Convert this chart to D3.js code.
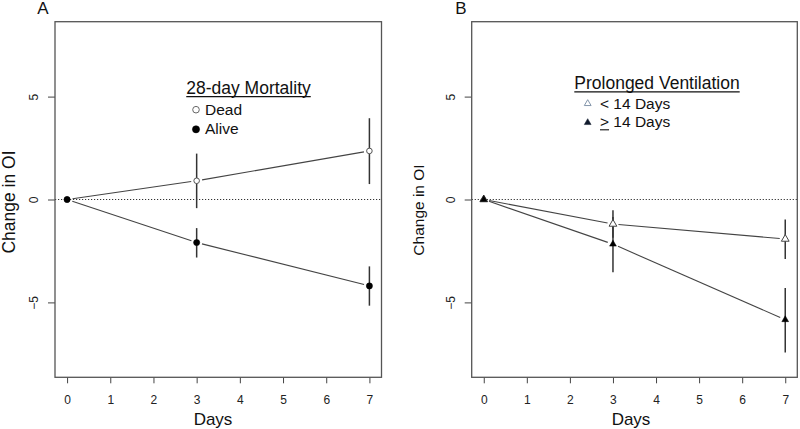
<!DOCTYPE html>
<html>
<head>
<meta charset="utf-8">
<script src="https://cdn.jsdelivr.net/npm/d3@7"></script>
<style>
  html, body { margin: 0; padding: 0; background: #fff; }
  svg { display: block; }
  text { font-family: "Liberation Sans", Arial, Helvetica, sans-serif; }
</style>
</head>
<body>
<svg id="chart" width="800" height="429"></svg>
<script>
// ---- Data ----
const days = [0, 3, 7];
const xTicks = [0, 1, 2, 3, 4, 5, 6, 7];
const yTicks = [-5, 0, 5];

// Panel A: 28-day Mortality
const deadMean = [0, 0.91, 2.36];
const deadLo   = [null, -0.42, 0.75];
const deadHi   = [null, 2.23, 3.95];
const aliveMean = [0, -2.09, -4.2];
const aliveLo   = [null, -2.82, -5.16];
const aliveHi   = [null, -1.39, -3.25];

// Panel B: Prolonged Ventilation
const shortMean = [0, -1.19, -1.92];
const shortLo   = [null, -1.86, -2.89];
const shortHi   = [null, -0.52, -0.97];
const longMean  = [0, -2.17, -5.84];
const longLo    = [null, -3.54, -7.43];
const longHi    = [null, -0.85, -4.3];

const legendA = ["Dead", "Alive"];
const legendB = ["< 14 Days", "> 14 Days"];

const svg = d3.select("#chart");

function drawPanel(cfg) {
  const g = svg.append("g");
  const x = d3.scaleLinear().domain([-0.28, 7.28]).range([cfg.left, cfg.right]);
  const y = d3.scaleLinear().domain([-8.64, 8.64]).range([cfg.bottom, cfg.top]);

  // zero reference line (dotted)
  g.append("line")
    .attr("x1", cfg.left).attr("x2", cfg.right)
    .attr("y1", y(0)).attr("y2", y(0))
    .attr("stroke", "#333").attr("stroke-width", 1)
    .attr("stroke-dasharray", "1.2,1.8");

  // axes
  const xAxis = d3.axisBottom(x).tickValues(xTicks).tickSize(6).tickSizeOuter(0).tickPadding(12);
  const gx = g.append("g").attr("transform", `translate(0,${cfg.bottom})`).call(xAxis);
  gx.select(".domain").remove();
  gx.selectAll("line").attr("stroke", "#444");
  gx.selectAll("text").attr("font-size", 12).attr("fill", "#222")
    .attr("font-family", '"Liberation Sans", Arial, sans-serif');

  const yAxis = d3.axisLeft(y).tickValues(yTicks).tickSize(7).tickSizeOuter(0);
  const gy = g.append("g").attr("transform", `translate(${cfg.left},0)`).call(yAxis);
  gy.select(".domain").remove();
  gy.selectAll("line").attr("stroke", "#444");
  gy.selectAll("text")
    .attr("x", 0).attr("dy", 0)
    .attr("text-anchor", "middle")
    .attr("transform", "translate(-17,0) rotate(-90)")
    .attr("font-size", 12).attr("fill", "#222")
    .attr("font-family", '"Liberation Sans", Arial, sans-serif');

  // box
  g.append("rect")
    .attr("x", cfg.left).attr("y", cfg.top)
    .attr("width", cfg.right - cfg.left).attr("height", cfg.bottom - cfg.top)
    .attr("fill", "none").attr("stroke", "#555").attr("stroke-width", 1.3);

  // axis titles
  g.append("text")
    .attr("x", cfg.daysX).attr("y", 425)
    .attr("text-anchor", "middle").attr("font-size", 17).attr("fill", "#111")
    .text("Days");
  g.append("text")
    .attr("transform", `translate(${cfg.ylabX},${cfg.ylabY}) rotate(-90)`)
    .attr("text-anchor", "middle").attr("font-size", cfg.ylabSize).attr("fill", "#111")
    .text("Change in OI");

  // panel letter
  g.append("text")
    .attr("x", cfg.letterX).attr("y", 14)
    .attr("text-anchor", "middle").attr("font-size", 17).attr("fill", "#111")
    .text(cfg.letter);

  // series
  const gap = 5.5;
  cfg.series.forEach(s => {
    // connecting lines with gaps (type = "b")
    for (let i = 0; i < days.length - 1; i++) {
      const x1 = x(days[i]), y1 = y(s.mean[i]);
      const x2 = x(days[i + 1]), y2 = y(s.mean[i + 1]);
      const len = Math.hypot(x2 - x1, y2 - y1);
      const ux = (x2 - x1) / len, uy = (y2 - y1) / len;
      g.append("line")
        .attr("x1", x1 + ux * gap).attr("y1", y1 + uy * gap)
        .attr("x2", x2 - ux * gap).attr("y2", y2 - uy * gap)
        .attr("stroke", "#444").attr("stroke-width", 1.1);
    }
    // error bars
    days.forEach((d, i) => {
      if (s.lo[i] == null) return;
      g.append("line")
        .attr("x1", x(d)).attr("x2", x(d))
        .attr("y1", y(s.lo[i])).attr("y2", y(s.hi[i]))
        .attr("stroke", "#333").attr("stroke-width", 1.5);
    });
  });
  cfg.series.forEach(s => {
    days.forEach((d, i) => {
      drawMarker(g, s.marker, x(d), y(s.mean[i]));
    });
  });

  // legend
  const L = cfg.legend;
  const title = g.append("text")
    .attr("x", L.titleX).attr("y", L.titleY)
    .attr("text-anchor", "middle").attr("font-size", 17.5).attr("fill", "#111")
    .text(L.title);
  const tw = title.node().getComputedTextLength();
  g.append("line")
    .attr("x1", L.titleX - tw / 2).attr("x2", L.titleX + tw / 2)
    .attr("y1", L.titleY + 2.6).attr("y2", L.titleY + 2.6)
    .attr("stroke", "#111").attr("stroke-width", 1.1);
  L.items.forEach((it, i) => {
    drawMarker(g, it.marker, L.symX, L.symY[i]);
    const t = g.append("text")
      .attr("x", L.textX).attr("y", L.textY[i])
      .attr("font-size", 15.5).attr("fill", "#111")
      .text(it.label);
    if (it.underlineFirst) {
      const w = t.node().getSubStringLength(0, 1);
      g.append("line")
        .attr("x1", L.textX).attr("x2", L.textX + w)
        .attr("y1", L.textY[i] + 2.5).attr("y2", L.textY[i] + 2.5)
        .attr("stroke", "#111").attr("stroke-width", 1.1);
    }
  });
}

function drawMarker(g, m, cx, cy) {
  if (m.type === "circle") {
    g.append("circle").attr("cx", cx).attr("cy", cy).attr("r", m.r)
      .attr("fill", m.fill).attr("stroke", m.stroke).attr("stroke-width", m.sw || 1);
  } else {
    g.append("path")
      .attr("d", d3.symbol().type(d3.symbolTriangle).size(m.size)())
      .attr("transform", `translate(${cx},${cy})`)
      .attr("fill", m.fill).attr("stroke", m.stroke).attr("stroke-width", m.sw || 1);
  }
}

const openCircle = { type: "circle", r: 2.8, fill: "#fff", stroke: "#555", sw: 1 };
const fillCircle = { type: "circle", r: 3.1, fill: "#000", stroke: "#000", sw: 0.5 };
const openTri = { type: "tri", size: 26, fill: "#fff", stroke: "#444", sw: 1 };
const fillTri = { type: "tri", size: 20, fill: "#000", stroke: "#000", sw: 0.5 };

drawPanel({
  left: 55, right: 381.5, top: 21.7, bottom: 377.3,
  daysX: 213, ylabX: 15, ylabY: 202, ylabSize: 17.5, letter: "A", letterX: 43,
  series: [
    { mean: deadMean, lo: deadLo, hi: deadHi, marker: openCircle },
    { mean: aliveMean, lo: aliveLo, hi: aliveHi, marker: fillCircle }
  ],
  legend: {
    title: "28-day Mortality", titleX: 248.5, titleY: 94,
    symX: 196, symY: [109.7, 129.3], textX: 205, textY: [114.8, 133.8],
    items: [
      { label: legendA[0], marker: { type: "circle", r: 3.3, fill: "#fff", stroke: "#666", sw: 1 } },
      { label: legendA[1], marker: { type: "circle", r: 3.6, fill: "#000", stroke: "#000", sw: 0.5 } }
    ]
  }
});

drawPanel({
  left: 471.7, right: 797.3, top: 21.7, bottom: 377.3,
  daysX: 631, ylabX: 424, ylabY: 210, ylabSize: 15.5, letter: "B", letterX: 461,
  series: [
    { mean: shortMean, lo: shortLo, hi: shortHi, marker: openTri },
    { mean: longMean, lo: longLo, hi: longHi, marker: fillTri }
  ],
  legend: {
    title: "Prolonged Ventilation", titleX: 657, titleY: 89.3,
    symX: 587.7, symY: [103.6, 122.6], textX: 600, textY: [109, 127.3],
    items: [
      { label: legendB[0], marker: { type: "tri", size: 20, fill: "#fff", stroke: "#8496ab", sw: 1 } },
      { label: legendB[1], marker: { type: "tri", size: 20, fill: "#101a2c", stroke: "#101a2c", sw: 0.5 }, underlineFirst: true }
    ]
  }
});
</script>
</body>
</html>
